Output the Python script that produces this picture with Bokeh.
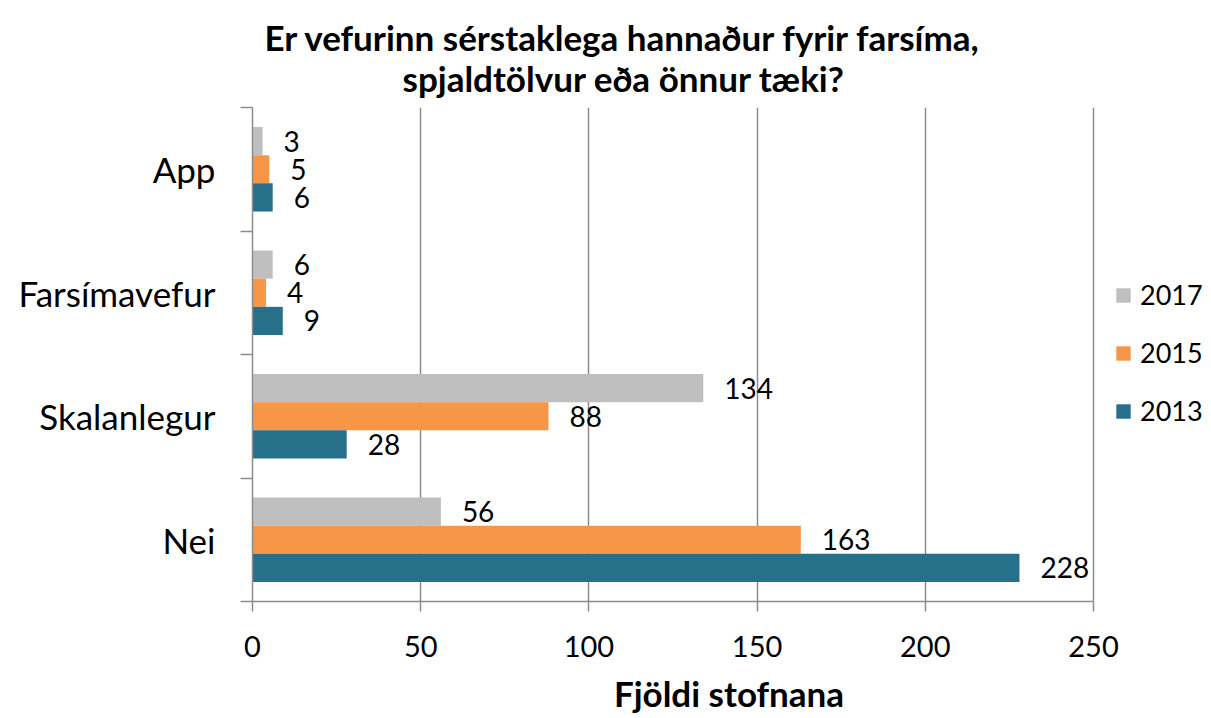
from bokeh.plotting import figure
from bokeh.models import FixedTicker, Title, Legend, LegendItem, ColumnDataSource, Range1d
from bokeh.core.properties import value
from bokeh.embed import file_html
from bokeh.resources import INLINE

# ---- data ----
categories = ["App", "Farsímavefur", "Skalanlegur", "Nei"]   # top to bottom
years = ["2017", "2015", "2013"]
v2017 = [3, 6, 134, 56]
v2015 = [5, 4, 88, 163]
v2013 = [6, 9, 28, 228]
x_ticks = [0, 50, 100, 150, 200, 250]
title_lines = ["Er vefurinn sérstaklega hannaður fyrir farsíma,",
               "spjaldtölvur eða önnur tæki?"]
x_title = "Fjöldi stofnana"

# ---- style ----
colors = ["#BFBFBF", "#F79646", "#267089"]
offsets = [0.228, 0.0, -0.228]
bar_h = 0.228
FONT = "Lato"
GRAY = "#8C8C8C"

n = len(categories)
centers = [n - i - 0.5 for i in range(n)]
x_max = x_ticks[-1]
# frame extends past the last tick to make room for the legend
x_end = x_max + 33.3

p = figure(output_backend="svg", toolbar_location=None,
           width=1205, height=716,
           min_border_left=252, min_border_right=0,
           min_border_top=107, min_border_bottom=108,
           x_range=Range1d(0, x_end), y_range=Range1d(0, n))
p.outline_line_color = None
p.background_fill_color = "white"

renderers = []
for vals, col, off, yr in zip([v2017, v2015, v2013], colors, offsets, years):
    ys = [c + off for c in centers]
    src = ColumnDataSource(dict(y=ys, right=vals, lab=[str(v) for v in vals]))
    r = p.hbar(y="y", left=0, right="right", height=bar_h, source=src,
               fill_color=col, line_color=None)
    p.text(x="right", y="y", text="lab", source=src, x_offset=21,
           text_align="left", text_baseline="middle",
           text_font=value(FONT), text_font_size="28px", text_color="black")
    renderers.append((yr, r))

# axes
xa = p.xaxis[0]
xa.ticker = FixedTicker(ticks=x_ticks)
xa.bounds = (0, x_max)
xa.axis_line_color = GRAY
xa.axis_line_width = 1.5
xa.major_tick_line_color = GRAY
xa.major_tick_line_width = 1.5
xa.major_tick_in = 0
xa.major_tick_out = 10
xa.minor_tick_line_color = None
xa.major_label_text_font = FONT
xa.major_label_text_font_size = "29px"
xa.major_label_text_color = "black"
xa.major_label_standoff = 24
xa.axis_label = x_title
xa.axis_label_text_font = FONT
xa.axis_label_text_font_style = "bold"
xa.axis_label_text_font_size = "35px"
xa.axis_label_text_color = "black"
xa.axis_label_standoff = 12

ya = p.yaxis[0]
ya.ticker = FixedTicker(ticks=centers, minor_ticks=list(range(n + 1)))
ya.major_label_overrides = {c: cat for c, cat in zip(centers, categories)}
ya.axis_line_color = GRAY
ya.axis_line_width = 1.5
ya.major_tick_line_color = None
ya.major_tick_in = 0
ya.major_tick_out = 0
ya.minor_tick_line_color = GRAY
ya.minor_tick_line_width = 1.5
ya.minor_tick_in = 0
ya.minor_tick_out = 12
ya.major_label_text_font = FONT
ya.major_label_text_font_size = "35px"
ya.major_label_text_color = "black"
ya.major_label_standoff = 25

p.xgrid.ticker = FixedTicker(ticks=x_ticks)
p.xgrid.grid_line_color = GRAY
p.xgrid.grid_line_width = 1.5
p.ygrid.visible = False

legend = Legend(items=[LegendItem(label=yr, renderers=[r]) for yr, r in renderers],
                location=(862, 174), orientation="vertical",
                glyph_width=18, glyph_height=18, label_height=30,
                spacing=25, padding=0, margin=0, label_standoff=8,
                label_text_font=FONT, label_text_font_size="27px",
                label_text_color="black",
                border_line_color=None, background_fill_alpha=0)
p.add_layout(legend, "center")

# two-line title (added bottom line first so the first line sits on top)
for t, off, so in reversed(list(zip(title_lines, [12, 150], [-24, 18]))):
    p.add_layout(Title(text=t, align="left", offset=off,
                       text_font=FONT, text_font_style="bold",
                       text_font_size="35px", text_color="black",
                       standoff=so), "above")

open("out.html", "w").write(file_html(p, INLINE))
